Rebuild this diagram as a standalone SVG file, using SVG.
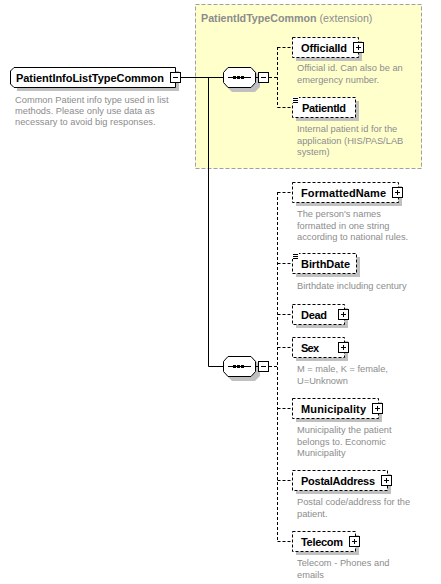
<svg xmlns="http://www.w3.org/2000/svg" width="441" height="584" viewBox="0 0 441 584">
<style>
.lbl{font-family:"Liberation Sans",Arial,sans-serif;font-size:11px;font-weight:bold;fill:#000}
.desc{font-family:"Liberation Sans",Arial,sans-serif;font-size:9.3px;fill:#8c8c8c}
.title{font-family:"Liberation Sans",Arial,sans-serif;font-size:10.7px;fill:#8c8c8c}
.dbox{fill:#fff;stroke:#000;stroke-width:1;stroke-dasharray:3,2}
.shadow{fill:#c0c0c0}
.line{stroke:#000;stroke-width:1;fill:none}
.dline{stroke:#000;stroke-width:1;fill:none;stroke-dasharray:3,2}
.ico{stroke:#000;stroke-width:1;fill:#fff}
</style>
<defs>
<g id="plus"><rect class="ico" x="0.5" y="0.5" width="10" height="10"/><path class="line" d="M3 5.5H8M5.5 3V8"/></g>
<g id="minus"><rect class="ico" x="0.5" y="0.5" width="10" height="10"/><path class="line" d="M3 5.5H8"/></g>
<g id="seq">
<polygon class="shadow" points="9,4 32,4 37,9 37,20 32,25 9,25 4,20 4,9"/>
<polygon points="5,0.5 28,0.5 32.5,5.5 32.5,15.5 28,20.5 5,20.5 0.5,15.5 0.5,5.5" fill="#fff" stroke="#000"/>
<path class="line" d="M5 10.5H28"/>
<rect x="10" y="9" width="3" height="3" fill="#000"/><rect x="14" y="9" width="3" height="3" fill="#000"/><rect x="18" y="9" width="3" height="3" fill="#000"/>
<path class="line" d="M33 10.5H35"/>
<use href="#minus" x="35" y="5"/>
</g>
<g id="lines"><rect x="0" y="0" width="7" height="6" fill="#fff"/><path class="line" d="M1 1.5H6M1 3.5H6M1 5.5H6"/></g>
</defs>

<g id="extension">
<rect x="195.5" y="4.5" width="226" height="164" fill="#ffffcc" stroke="#a0a0a0" stroke-dasharray="4,2"/>
<text class="title" x="201" y="22"><tspan font-weight="bold">PatientIdTypeCommon</tspan> (extension)</text>
</g>

<g id="connectors">
<path class="line" d="M181 77.5H223M208.5 77.5V366.5H223"/>
<path class="dline" d="M269 77.5H277.5M277.5 47V107.5M277.5 47.5H292M277.5 107.5H292"/>
<path class="dline" d="M269 366.5H277.5M277.5 192V541.5M277.5 192.5H292M277.5 263.5H292M277.5 314.5H292M277.5 347.5H292M277.5 408.5H292M277.5 480.5H292M277.5 541.5H292"/>
</g>

<g id="PatientInfoListTypeCommon">
<path class="shadow" d="M17 71H179V91H17Z"/>
<path d="M14 67.5H175.5V87.5H14L10.5 84V71Z" fill="#fff" stroke="#000"/>
<text class="lbl" x="16" y="81.5" textLength="148">PatientInfoListTypeCommon</text>
<use href="#minus" x="170" y="72"/>
<text class="desc" x="15" y="103">Common Patient info type used in list</text>
<text class="desc" x="15" y="114">methods. Please only use data as</text>
<text class="desc" x="15" y="125">necessary to avoid big responses.</text>
</g>

<g id="sequence1"><use href="#seq" x="223" y="67"/></g>
<g id="sequence2"><use href="#seq" x="223" y="356"/></g>

<g id="OfficialId">
<rect class="shadow" x="296" y="41" width="66" height="20"/>
<rect class="dbox" x="292.5" y="37.5" width="66" height="20"/>
<text class="lbl" x="301" y="51.5" textLength="46">OfficialId</text>
<use href="#plus" x="353" y="42"/>
<text class="desc" x="297" y="71">Official id. Can also be an</text>
<text class="desc" x="297" y="82.5">emergency number.</text>
</g>

<g id="PatientId">
<rect class="shadow" x="296" y="101" width="63" height="20"/>
<rect class="dbox" x="292.5" y="97.5" width="63" height="20"/>
<text class="lbl" x="302" y="111.5" textLength="44">PatientId</text>
<use href="#lines" x="292" y="97"/>
<text class="desc" x="297" y="132">Internal patient id for the</text>
<text class="desc" x="297" y="143.5">application (HIS/PAS/LAB</text>
<text class="desc" x="297" y="155">system)</text>
</g>

<g id="FormattedName">
<rect class="shadow" x="296" y="186" width="106" height="20"/>
<rect class="dbox" x="292.5" y="182.5" width="106" height="20"/>
<text class="lbl" x="301" y="196.5" textLength="85">FormattedName</text>
<use href="#plus" x="392" y="187"/>
<text class="desc" x="297" y="217">The person's names</text>
<text class="desc" x="297" y="228.5">formatted in one string</text>
<text class="desc" x="297" y="240">according to national rules.</text>
</g>

<g id="BirthDate">
<rect class="shadow" x="296" y="257" width="64" height="20"/>
<rect class="dbox" x="292.5" y="253.5" width="64" height="20"/>
<text class="lbl" x="301" y="267.5" textLength="49">BirthDate</text>
<use href="#lines" x="292" y="253"/>
<text class="desc" x="297" y="289">Birthdate including century</text>
</g>

<g id="Dead">
<rect class="shadow" x="296" y="308" width="52" height="20"/>
<rect class="dbox" x="292.5" y="304.5" width="52" height="20"/>
<text class="lbl" x="301" y="318.5" textLength="26">Dead</text>
<use href="#plus" x="338" y="309"/>
</g>

<g id="Sex">
<rect class="shadow" x="296" y="341" width="52" height="20"/>
<rect class="dbox" x="292.5" y="337.5" width="52" height="20"/>
<text class="lbl" x="301" y="351.5" textLength="18">Sex</text>
<use href="#plus" x="338" y="342"/>
<text class="desc" x="297" y="372">M = male, K = female,</text>
<text class="desc" x="297" y="383.5">U=Unknown</text>
</g>

<g id="Municipality">
<rect class="shadow" x="296" y="402" width="86" height="20"/>
<rect class="dbox" x="292.5" y="398.5" width="86" height="20"/>
<text class="lbl" x="301" y="412.5" textLength="65">Municipality</text>
<use href="#plus" x="372" y="403"/>
<text class="desc" x="297" y="433">Municipality the patient</text>
<text class="desc" x="297" y="444.5">belongs to. Economic</text>
<text class="desc" x="297" y="456">Municipality</text>
</g>

<g id="PostalAddress">
<rect class="shadow" x="296" y="474" width="95" height="20"/>
<rect class="dbox" x="292.5" y="470.5" width="95" height="20"/>
<text class="lbl" x="301" y="484.5" textLength="74">PostalAddress</text>
<use href="#plus" x="381" y="475"/>
<text class="desc" x="297" y="505">Postal code/address for the</text>
<text class="desc" x="297" y="516.5">patient.</text>
</g>

<g id="Telecom">
<rect class="shadow" x="296" y="535" width="63" height="20"/>
<rect class="dbox" x="292.5" y="531.5" width="63" height="20"/>
<text class="lbl" x="301" y="545.5" textLength="42">Telecom</text>
<use href="#plus" x="349" y="536"/>
<text class="desc" x="297" y="566">Telecom - Phones and</text>
<text class="desc" x="297" y="577.5">emails</text>
</g>
</svg>
